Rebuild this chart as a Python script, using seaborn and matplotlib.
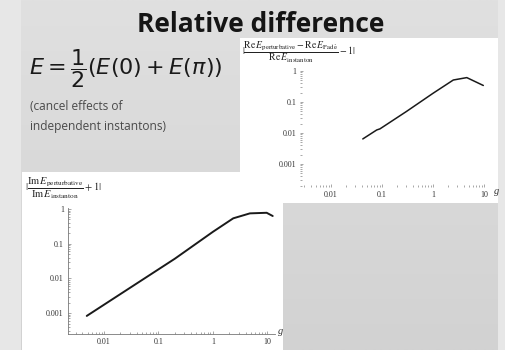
import numpy as np
import matplotlib
matplotlib.use('Agg')
import matplotlib.pyplot as plt
from matplotlib.patches import Rectangle
from matplotlib.colors import LinearSegmentedColormap
from matplotlib.ticker import LogLocator, NullFormatter
import seaborn as sns

sns.set_theme(style='white')
plt.rcParams['font.family'] = ['Open Sans', 'DejaVu Sans']
plt.rcParams['mathtext.fontset'] = 'dejavusans'

# ---- data ----
g_re = [0.042, 0.079, 0.091, 0.30, 1.0, 2.5, 4.6, 9.7]
re_diff = [0.0064, 0.0125, 0.0135, 0.049, 0.19, 0.51, 0.61, 0.34]

g_im = [0.0048, 0.20, 1.0, 2.37, 4.8, 9.75, 12.6]
im_diff = [0.00083, 0.037, 0.22, 0.54, 0.75, 0.78, 0.63]

xtick_vals = [0.01, 0.1, 1, 10]
xtick_labels = ['0.01', '0.1', '1', '10']
ytick_vals = [0.001, 0.01, 0.1, 1]
ytick_labels = ['0.001', '0.01', '0.1', '1']

W, H = 506, 350
fig = plt.figure(figsize=(W / 100, H / 100), dpi=100)
fig.patch.set_facecolor('#e7e7e7')

# background layer in pixel coordinates
bg = fig.add_axes([0, 0, 1, 1], zorder=0)
grad = np.linspace(0, 1, 200)[:, None]
cmap = LinearSegmentedColormap.from_list('slide', ['#e0e0e0', '#d2d2d2'])
bg.imshow(grad, extent=(21, 498, H, 0), cmap=cmap, aspect='auto', interpolation='bilinear')
bg.add_patch(Rectangle((240, 38), 258, 165, facecolor='white', edgecolor='none'))
bg.add_patch(Rectangle((22, 172), 261, 178, facecolor='white', edgecolor='none'))
bg.set_xlim(0, W)
bg.set_ylim(H, 0)
bg.axis('off')

bg.text(261, 32, 'Relative difference', ha='center', va='baseline',
        fontsize=19, fontweight='bold', color='#151515')
bg.text(29, 69, r'$E = \dfrac{1}{2}(E(0) + E(\pi))$', ha='left', va='center',
        fontsize=16, color='#1a1a1a')
bg.text(30, 110, '(cancel effects of', ha='left', va='baseline',
        fontsize=8.6, color='#4a4a4a')
bg.text(30, 130, 'independent instantons)', ha='left', va='baseline',
        fontsize=8.6, color='#4a4a4a')

bg.text(242, 52, r'$|\dfrac{\mathrm{Re}\,E_{\mathrm{perturbative}} - \mathrm{Re}\,E_{\mathrm{Pad\acute{e}}}}{\mathrm{Re}\,E_{\mathrm{instanton}}} - 1|$',
        ha='left', va='center', fontsize=7, color='#222', math_fontfamily='stix')
bg.text(25, 188, r'$|\dfrac{\mathrm{Im}\,E_{\mathrm{perturbative}}}{\mathrm{Im}\,E_{\mathrm{instanton}}} + 1|$',
        ha='left', va='center', fontsize=7.5, color='#222', math_fontfamily='stix')
bg.text(494, 191, 'g', ha='left', va='center', fontsize=7.5, style='italic',
        family='Liberation Serif', color='#333')
bg.text(278, 331, 'g', ha='left', va='center', fontsize=7.5, style='italic',
        family='Liberation Serif', color='#333')


def style_axes(ax, spines):
    ax.set_xscale('log')
    ax.set_yscale('log')
    ax.set_xticks(xtick_vals, xtick_labels)
    ax.set_yticks(ytick_vals, ytick_labels)
    ax.xaxis.set_minor_locator(LogLocator(base=10, subs=np.arange(2, 10)))
    ax.yaxis.set_minor_locator(LogLocator(base=10, subs=np.arange(2, 10)))
    ax.xaxis.set_minor_formatter(NullFormatter())
    ax.yaxis.set_minor_formatter(NullFormatter())
    ax.tick_params(which='both', direction='in', color='#999', width=0.6,
                   labelsize=5.8, labelcolor='#333', pad=3,
                   bottom=True, left=True, top=False, right=False)
    ax.tick_params(which='major', length=2.5)
    ax.tick_params(which='minor', length=1.2)
    for lab in ax.get_xticklabels() + ax.get_yticklabels():
        lab.set_fontfamily('Liberation Serif')
    for side in ['top', 'right']:
        ax.spines[side].set_visible(False)
    for side in ['left', 'bottom']:
        ax.spines[side].set_visible(spines)
        ax.spines[side].set_color('#777')
        ax.spines[side].set_linewidth(0.6)
    ax.set_xlabel('')
    ax.set_ylabel('')
    ax.grid(False)
    ax.patch.set_alpha(0)


# top-right plot (real part)
ax1 = fig.add_axes([300.3 / W, 1 - 187 / H, (489.8 - 300.3) / W, (187 - 70.3) / H], zorder=2)
sns.lineplot(x=g_re, y=re_diff, ax=ax1, color='#1a1a1a', lw=1.1, estimator=None)
ax1.set_xlim(0.0025, 13)
ax1.set_ylim(0.00018, 1.05)
style_axes(ax1, spines=False)

# bottom-left plot (imaginary part)
ax2 = fig.add_axes([68 / W, 1 - 334 / H, (275.2 - 68) / W, (334 - 207.6) / H], zorder=2)
sns.lineplot(x=g_im, y=im_diff, ax=ax2, color='#1a1a1a', lw=1.4, estimator=None)
ax2.set_xlim(0.00217, 14)
ax2.set_ylim(0.00025, 1.1)
style_axes(ax2, spines=True)

fig.savefig('out.png', dpi=100, facecolor=fig.get_facecolor())
